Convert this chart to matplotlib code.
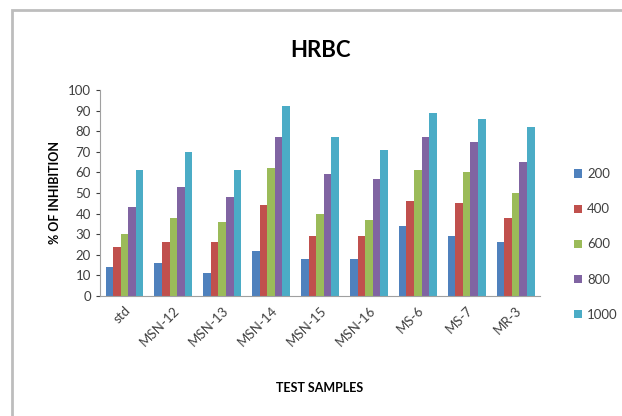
import matplotlib
matplotlib.use('Agg')
import matplotlib.pyplot as plt
import numpy as np
from matplotlib.patches import Rectangle

plt.rcParams['font.family'] = ['Lato', 'DejaVu Sans']

# samples and inhibition values per concentration
samples = ['std', 'MSN-12', 'MSN-13', 'MSN-14', 'MSN-15', 'MSN-16', 'MS-6', 'MS-7', 'MR-3']
conc = ['200', '400', '600', '800', '1000']
v200 = [14, 16, 11, 22, 18, 18, 34, 29, 26]
v400 = [24, 26, 26, 44, 29, 29, 46, 45, 38]
v600 = [30, 38, 36, 62, 40, 37, 61, 60, 50]
v800 = [43, 53, 48, 77, 59, 57, 77, 75, 65]
v1000 = [61, 70, 61, 92, 77, 71, 89, 86, 82]
series = [v200, v400, v600, v800, v1000]
colors = ['#4F81BD', '#C0504D', '#9BBB59', '#8064A2', '#4BACC6']

fig = plt.figure(figsize=(6.22, 4.16), dpi=100)
# outer chart border
fig.patches.append(Rectangle((12/622, -0.05), 1.0, 1 - 10/416 + 0.05,
                             transform=fig.transFigure, fill=False,
                             edgecolor='#bdbdbd', linewidth=2))

ax = fig.add_axes([100/622, 1 - 296/416, 440/622, 206/416])
x = np.arange(len(samples))
w = 0.155
for i, (vals, c, lab) in enumerate(zip(series, colors, conc)):
    ax.bar(x + (i - 2) * w, vals, w, color=c, label=lab)

ax.set_xlim(-0.5, len(samples) - 0.5)
ax.set_ylim(0, 100)
ax.set_yticks(range(0, 101, 10))
ax.set_xticks(x)
ax.set_xticklabels(samples, rotation=45, ha='right', rotation_mode='anchor')
ax.tick_params(axis='both', labelsize=9.5, colors='#404040', length=3)
ax.tick_params(axis='x', length=0, pad=6)
for s in ['top', 'right']:
    ax.spines[s].set_visible(False)
for s in ['left', 'bottom']:
    ax.spines[s].set_color('#a0a0a0')

ax.set_title('HRBC', fontsize=16, fontweight='bold', pad=24)
ax.set_ylabel('% OF INHIBITION', fontsize=9, fontweight='bold', labelpad=5)
ax.set_xlabel('TEST SAMPLES', fontsize=9, fontweight='bold', labelpad=24)

ax.legend(loc='center left', bbox_to_anchor=(1.05, 0.25), frameon=False,
          fontsize=9.5, handlelength=0.6, handleheight=0.6, handletextpad=0.4,
          labelspacing=1.75, labelcolor='#404040')

fig.savefig('out.png', dpi=100)
